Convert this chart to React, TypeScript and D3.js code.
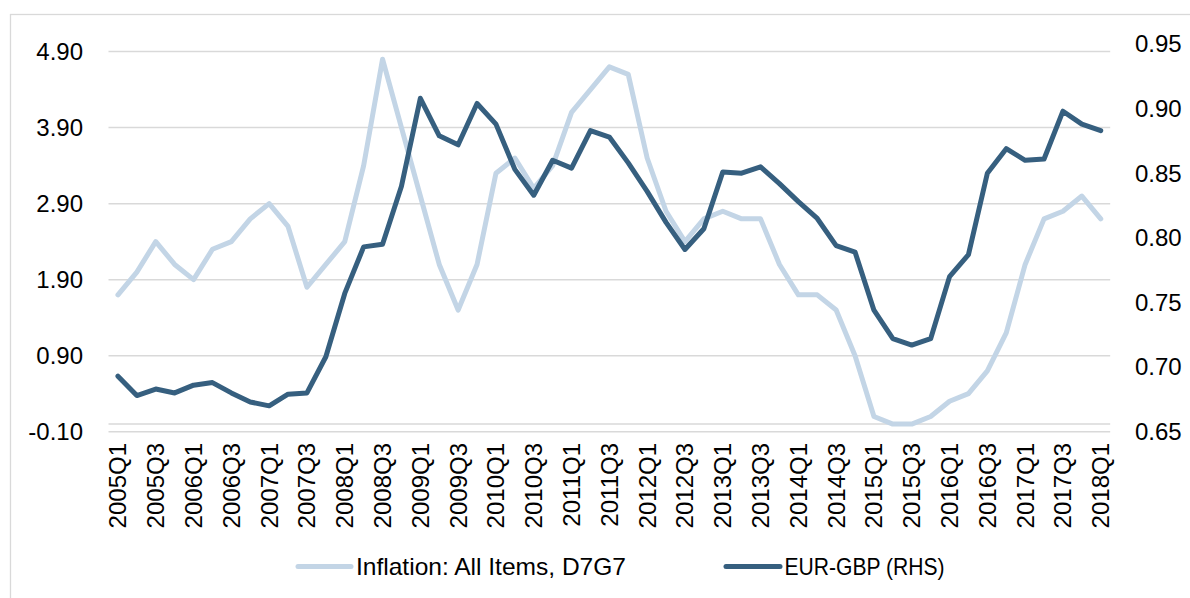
import React from "react";
import * as d3 from "d3";

const categories = [
  "2005Q1","2005Q2","2005Q3","2005Q4",
  "2006Q1","2006Q2","2006Q3","2006Q4",
  "2007Q1","2007Q2","2007Q3","2007Q4",
  "2008Q1","2008Q2","2008Q3","2008Q4",
  "2009Q1","2009Q2","2009Q3","2009Q4",
  "2010Q1","2010Q2","2010Q3","2010Q4",
  "2011Q1","2011Q2","2011Q3","2011Q4",
  "2012Q1","2012Q2","2012Q3","2012Q4",
  "2013Q1","2013Q2","2013Q3","2013Q4",
  "2014Q1","2014Q2","2014Q3","2014Q4",
  "2015Q1","2015Q2","2015Q3","2015Q4",
  "2016Q1","2016Q2","2016Q3","2016Q4",
  "2017Q1","2017Q2","2017Q3","2017Q4",
  "2018Q1",
];

const inflation = [
  1.7, 2.0, 2.4, 2.1,
  1.9, 2.3, 2.4, 2.7,
  2.9, 2.6, 1.8, 2.1,
  2.4, 3.4, 4.8, 3.9,
  3.0, 2.1, 1.5, 2.1,
  3.3, 3.5, 3.1, 3.4,
  4.1, 4.4, 4.7, 4.6,
  3.5, 2.8, 2.4, 2.7,
  2.8, 2.7, 2.7, 2.1,
  1.7, 1.7, 1.5, 0.9,
  0.1, 0.0, 0.0, 0.1,
  0.3, 0.4, 0.7, 1.2,
  2.1, 2.7, 2.8, 3.0,
  2.7,
];

const eurGbp = [
  0.693, 0.678, 0.683, 0.680,
  0.686, 0.688, 0.680, 0.673,
  0.670, 0.679, 0.680, 0.708,
  0.757, 0.793, 0.795, 0.840,
  0.908, 0.879, 0.872, 0.904,
  0.888, 0.853, 0.833, 0.860,
  0.854, 0.883, 0.878, 0.858,
  0.836, 0.812, 0.791, 0.807,
  0.851, 0.850, 0.855, 0.842,
  0.828, 0.815, 0.794, 0.789,
  0.744, 0.722, 0.717, 0.722,
  0.770, 0.787, 0.850, 0.869,
  0.860, 0.861, 0.898, 0.888,
  0.883,
];

const leftTicks = [-0.1, 0.9, 1.9, 2.9, 3.9, 4.9];
const rightTicks = [0.65, 0.7, 0.75, 0.8, 0.85, 0.9, 0.95];
const seriesNames = ["Inflation: All Items, D7G7", "EUR-GBP (RHS)"];

const W = 1190;
const H = 598;
const LIGHT = "#C3D5E6";
const DARK = "#365F7F";
const GRID = "#D9D9D9";
const FONT = "'Liberation Sans', Arial, sans-serif";

const locale = d3.formatLocale({
  decimal: ".",
  thousands: ",",
  grouping: [3],
  currency: ["", ""],
  minus: "-",
});

export default function App() {
  const plotLeft = 108.5;
  const plotRight = 1110.2;
  const plotTop = 44;
  const plotBottom = 431.7;

  const x = d3.scaleBand<string>().domain(categories).range([plotLeft, plotRight]).padding(0);
  const cx = (c: string) => (x(c) as number) + x.bandwidth() / 2;
  const yL = d3.scaleLinear().domain([-0.1, 5.0]).range([plotBottom, plotTop]);
  const yR = d3.scaleLinear().domain([0.65, 0.95]).range([plotBottom, plotTop]);
  const fmt = locale.format(".2f");

  const lineL = d3
    .line<number>()
    .x((_, i) => cx(categories[i]))
    .y((d) => yL(d));
  const lineR = d3
    .line<number>()
    .x((_, i) => cx(categories[i]))
    .y((d) => yR(d));

  const labelCats = categories.filter((_, i) => i % 2 === 0);

  return (
    <svg
      width={W}
      height={H}
      style={{ position: "absolute", left: 0, top: 0, background: "#fff" }}
      fontFamily={FONT}
    >
      <rect x={0} y={0} width={W} height={H} fill="#fff" />
      <rect x={10.5} y={14.5} width={W + 20} height={H + 20} fill="none" stroke={GRID} strokeWidth={1.3} />

      {leftTicks.map((t) => (
        <line key={"g" + t} x1={plotLeft} x2={plotRight} y1={yL(t)} y2={yL(t)} stroke={GRID} strokeWidth={1.5} />
      ))}
      <line x1={plotLeft} x2={plotRight} y1={yL(0)} y2={yL(0)} stroke={GRID} strokeWidth={1.5} />

      {leftTicks.map((t) => (
        <text key={"l" + t} x={83} y={yL(t)} dy="0.35em" textAnchor="end" fontSize={24} fill="#000">
          {fmt(t)}
        </text>
      ))}
      {rightTicks.map((t) => (
        <text key={"r" + t} x={1135} y={yR(t)} dy="0.35em" textAnchor="start" fontSize={24} fill="#000">
          {fmt(t)}
        </text>
      ))}

      {labelCats.map((c) => (
        <text
          key={c}
          transform={`translate(${cx(c) + 8.5},${443}) rotate(-90)`}
          textAnchor="end"
          fontSize={24}
          fill="#000"
        >
          {c}
        </text>
      ))}

      <path d={lineL(inflation) || ""} fill="none" stroke={LIGHT} strokeWidth={5} strokeLinejoin="round" strokeLinecap="round" />
      <path d={lineR(eurGbp) || ""} fill="none" stroke={DARK} strokeWidth={5} strokeLinejoin="round" strokeLinecap="round" />

      <g>
        <line x1={298} x2={351} y1={566.5} y2={566.5} stroke={LIGHT} strokeWidth={5} strokeLinecap="round" />
        <text x={356} y={575} fontSize={24} fill="#000" textLength={270} lengthAdjust="spacingAndGlyphs">
          {seriesNames[0]}
        </text>
        <line x1={726} x2={780} y1={566.5} y2={566.5} stroke={DARK} strokeWidth={5} strokeLinecap="round" />
        <text x={784.5} y={575} fontSize={24} fill="#000" textLength={160} lengthAdjust="spacingAndGlyphs">
          {seriesNames[1]}
        </text>
      </g>
    </svg>
  );
}
